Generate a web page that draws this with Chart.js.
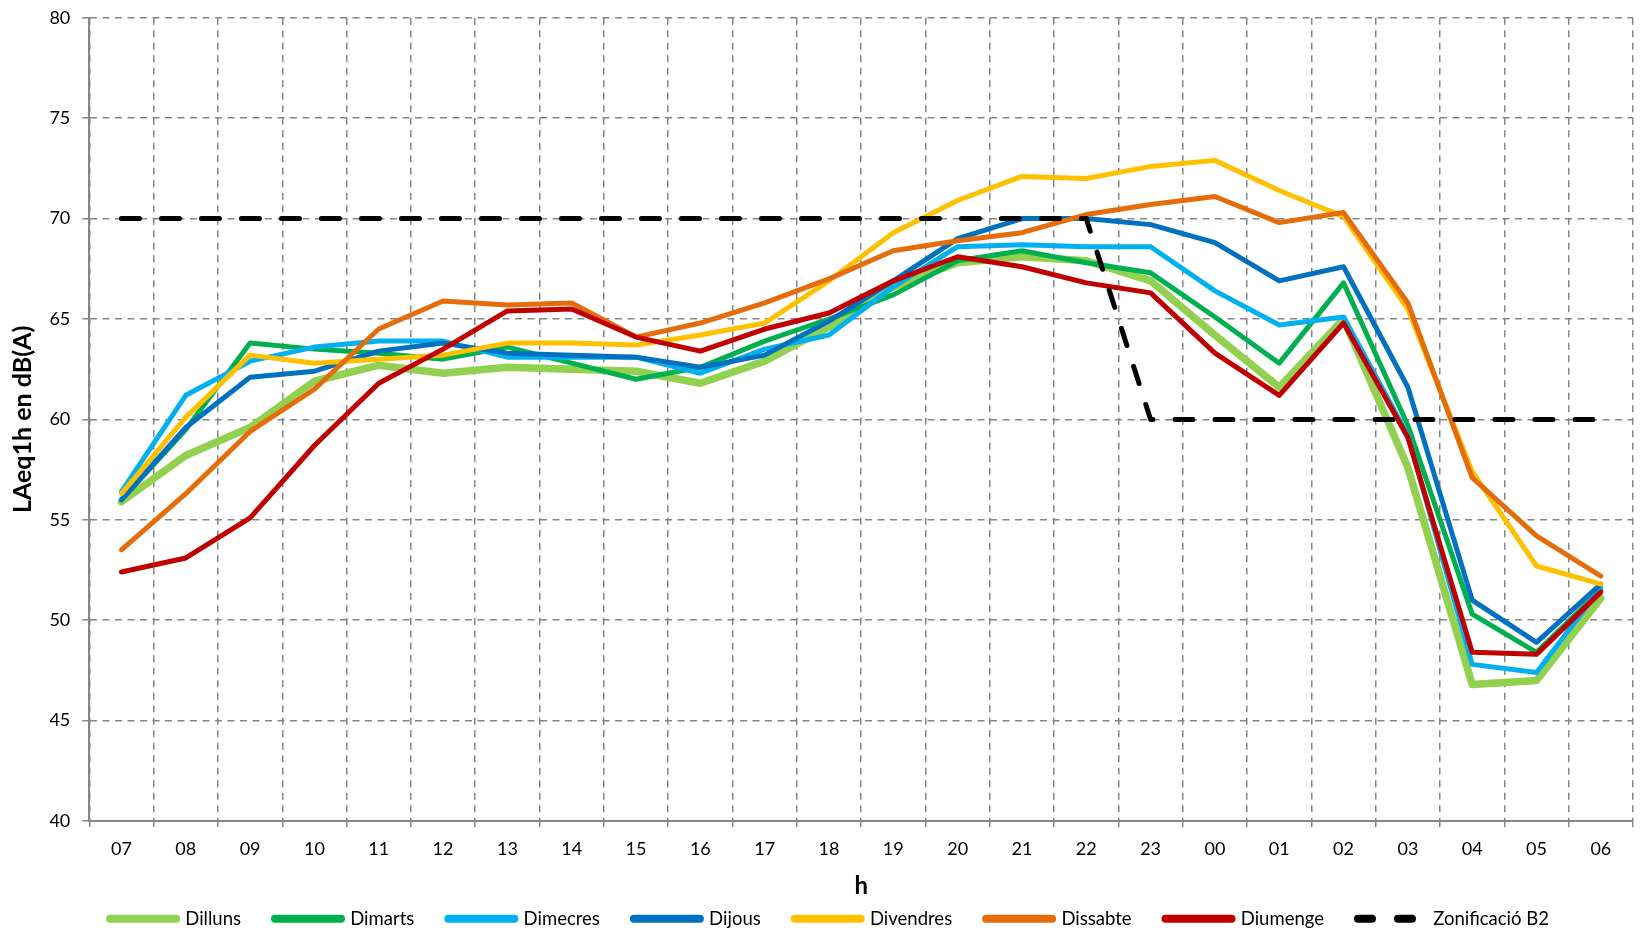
<!DOCTYPE html>
<html lang="ca">
<head>
<meta charset="utf-8">
<title>LAeq1h per dia de la setmana</title>
<script src="https://cdn.jsdelivr.net/npm/chart.js@4.4.1/dist/chart.umd.min.js"></script>
<style>
    html, body { margin: 0; padding: 0; background: #ffffff; }
    #grafic { display: block; }
</style>
</head>
<body>
<canvas id="grafic" width="1641" height="932"></canvas>
<script>

const hores = ['07','08','09','10','11','12','13','14','15','16','17','18','19','20','21','22','23','00','01','02','03','04','05','06'];

const dilluns   = [55.9, 58.2, 59.6, 61.9, 62.7, 62.3, 62.6, 62.5, 62.4, 61.8, 62.9, 64.6, 66.6, 67.8, 68.1, 67.9, 66.9, 64.2, 61.6, 65.0, 57.6, 46.8, 47.0, 51.1];
const dimarts   = [56.0, 59.5, 63.8, 63.5, 63.3, 63.0, 63.6, 62.8, 62.0, 62.6, 63.9, 65.0, 66.2, 67.9, 68.4, 67.8, 67.3, 65.1, 62.8, 66.8, 59.7, 50.3, 48.4, 51.5];
const dimecres  = [56.4, 61.2, 62.9, 63.6, 63.9, 63.9, 63.1, 63.1, 63.1, 62.3, 63.5, 64.2, 66.6, 68.6, 68.7, 68.6, 68.6, 66.4, 64.7, 65.1, 59.2, 47.8, 47.4, 51.6];
const dijous    = [56.0, 59.6, 62.1, 62.4, 63.4, 63.8, 63.3, 63.2, 63.1, 62.6, 63.2, 64.9, 66.9, 69.0, 70.0, 70.0, 69.7, 68.8, 66.9, 67.6, 61.6, 51.0, 48.9, 51.8];
const divendres = [56.3, 60.1, 63.2, 62.8, 63.0, 63.2, 63.8, 63.8, 63.7, 64.2, 64.8, 66.9, 69.3, 70.9, 72.1, 72.0, 72.6, 72.9, 71.4, 70.1, 65.5, 57.4, 52.7, 51.8];
const dissabte  = [53.5, 56.3, 59.4, 61.5, 64.5, 65.9, 65.7, 65.8, 64.1, 64.8, 65.8, 67.0, 68.4, 68.9, 69.3, 70.2, 70.7, 71.1, 69.8, 70.3, 65.8, 57.1, 54.2, 52.2];
const diumenge  = [52.4, 53.1, 55.1, 58.7, 61.8, 63.5, 65.4, 65.5, 64.1, 63.4, 64.5, 65.3, 66.9, 68.1, 67.6, 66.8, 66.3, 63.3, 61.2, 64.8, 59.1, 48.4, 48.3, 51.4];
const zonificacio = [70, 70, 70, 70, 70, 70, 70, 70, 70, 70, 70, 70, 70, 70, 70, 70, 60, 60, 60, 60, 60, 60, 60, 60];

const nomsSeries  = ['Dilluns', 'Dimarts', 'Dimecres', 'Dijous', 'Divendres', 'Dissabte', 'Diumenge', 'Zonificació B2'];
const valorsSeries = [dilluns, dimarts, dimecres, dijous, divendres, dissabte, diumenge, zonificacio];
const colors      = ['#92D050', '#00B050', '#00B0F0', '#0070C0', '#FFC000', '#E46C0A', '#C00000', '#000000'];
const gruixos     = [7.5, 5, 5, 5, 5, 5, 5, 5];

const eixY = { min: 40, max: 80, pas: 5 };

const grisEixos = '#868686';
const lletra = 'Lato, "Open Sans", sans-serif';

const datasets = nomsSeries.map((nom, i) => ({
    label: nom,
    data: valorsSeries[i],
    borderColor: colors[i],
    backgroundColor: colors[i],
    borderWidth: gruixos[i],
    borderDash: i === 7 ? [18, 22] : [],
    borderCapStyle: 'round',
    borderJoinStyle: 'round',
    pointRadius: 0,
    pointHoverRadius: 0,
    tension: 0,
    fill: false,
    order: nomsSeries.length - i
}));

function etiquetesLlegenda(chart) {
    const base = Chart.defaults.plugins.legend.labels.generateLabels(chart);
    return base.map(item => {
        item.lineWidth = 8;
        item.lineCap = 'round';
        item.lineDash = item.datasetIndex === 7 ? [14, 26] : [];
        item.pointStyle = 'line';
        return item;
    });
}

new Chart(document.getElementById('grafic').getContext('2d'), {
    type: 'line',
    data: { labels: hores, datasets: datasets },
    options: {
        responsive: false,
        animation: false,
        devicePixelRatio: 1,
        layout: { padding: { left: 26, top: 17.8, right: 8, bottom: -6 } },
        plugins: {
            tooltip: { enabled: false },
            legend: {
                position: 'bottom',
                labels: {
                    usePointStyle: true,
                    pointStyle: 'line',
                    pointStyleWidth: 66,
                    padding: 34,
                    color: '#000000',
                    font: { family: lletra, size: 18.5 },
                    generateLabels: etiquetesLlegenda,
                    sort: (a, b) => a.datasetIndex - b.datasetIndex
                }
            }
        },
        scales: {
            x: {
                offset: true,
                grid: {
                    offset: true,
                    color: grisEixos,
                    lineWidth: 1.5,
                    tickLength: 6,
                    tickColor: grisEixos,
                    tickWidth: 1.5,
                    tickBorderDash: []
                },
                border: { display: true, color: grisEixos, width: 2, dash: [7, 5.5] },
                ticks: {
                    color: '#000000',
                    padding: 11,
                    maxRotation: 0,
                    autoSkip: false,
                    font: { family: lletra, size: 18 }
                },
                title: {
                    display: true,
                    text: 'h',
                    color: '#000000',
                    font: { family: lletra, size: 24, weight: 'bold' },
                    padding: { top: 0, bottom: -25.4 }
                },
                afterFit: escala => { escala.height = 54.5; }
            },
            y: {
                min: eixY.min,
                max: eixY.max,
                grid: {
                    color: grisEixos,
                    lineWidth: 1.5,
                    tickLength: 7,
                    tickColor: grisEixos,
                    tickWidth: 1.5,
                    tickBorderDash: []
                },
                border: { display: true, color: grisEixos, width: 2, dash: [7, 5.5] },
                ticks: {
                    stepSize: eixY.pas,
                    color: '#000000',
                    padding: 12,
                    font: { family: lletra, size: 18, lineHeight: 0.4 }
                },
                title: {
                    display: true,
                    text: 'LAeq1h en dB(A)',
                    color: '#000000',
                    font: { family: lletra, size: 25, weight: 'bold' },
                    padding: { top: -17.6, bottom: 0 }
                },
                afterFit: escala => { escala.width = 63.3; }
            }
        }
    }
});
</script>
</body>
</html>
